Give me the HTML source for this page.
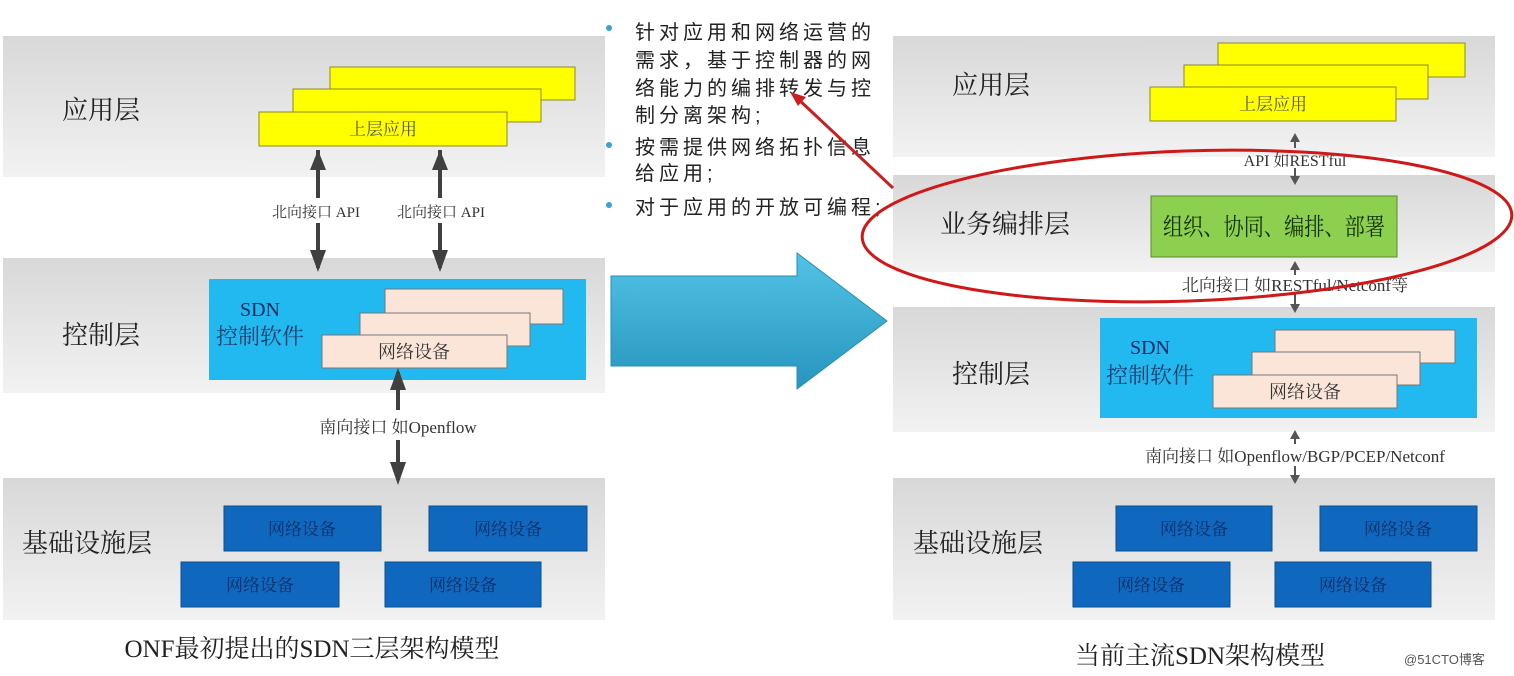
<!DOCTYPE html>
<html><head><meta charset="utf-8"><style>
html,body{margin:0;padding:0;background:#fff;}
svg{display:block}
.s{font-family:"Liberation Serif","Noto Serif CJK SC",serif;}
.h{font-family:"Liberation Sans","Noto Sans CJK SC",sans-serif;}
</style></head><body>
<svg width="1514" height="676" viewBox="0 0 1514 676" xmlns="http://www.w3.org/2000/svg">
<defs>
<linearGradient id="band" x1="0" y1="0" x2="0" y2="1"><stop offset="0" stop-color="#d8d8d8"/><stop offset="1" stop-color="#f2f2f2"/></linearGradient>
<linearGradient id="arr" x1="0" y1="0" x2="0" y2="1"><stop offset="0" stop-color="#52c3e6"/><stop offset="1" stop-color="#2795be"/></linearGradient>
</defs>
<g class="s">
<rect x="3" y="36" width="602" height="141" fill="url(#band)"/>
<rect x="3" y="258" width="602" height="135" fill="url(#band)"/>
<rect x="3" y="478" width="602" height="142" fill="url(#band)"/>
<text x="62" y="119" font-size="26" fill="#222">应用层</text>
<text x="62" y="344" font-size="26" fill="#222">控制层</text>
<text x="22" y="552" font-size="26" fill="#222">基础设施层</text>
<rect x="330" y="67" width="245" height="33" fill="#ffff00" stroke="#8a8a30"/>
<rect x="293" y="89" width="248" height="33" fill="#ffff00" stroke="#8a8a30"/>
<rect x="259" y="112" width="248" height="34" fill="#ffff00" stroke="#8a8a30"/>
<text x="383" y="135" font-size="17" text-anchor="middle" fill="#555">上层应用</text>
<line x1="318" y1="150" x2="318" y2="198" stroke="#404040" stroke-width="4"/>
<line x1="318" y1="223" x2="318" y2="268" stroke="#404040" stroke-width="4"/>
<path d="M310,170 L318,150 L326,170z M310,250 L318,272 L326,250z" fill="#404040"/>
<line x1="440" y1="150" x2="440" y2="198" stroke="#404040" stroke-width="4"/>
<line x1="440" y1="223" x2="440" y2="268" stroke="#404040" stroke-width="4"/>
<path d="M432,170 L440,150 L448,170z M432,250 L440,272 L448,250z" fill="#404040"/>
<text x="316" y="217" font-size="15" text-anchor="middle" fill="#333">北向接口 API</text>
<text x="441" y="217" font-size="15" text-anchor="middle" fill="#333">北向接口 API</text>
<rect x="209" y="279" width="377" height="101" fill="#22b9f0"/>
<text x="260" y="316" font-size="20" text-anchor="middle" fill="#0a2a66">SDN</text>
<text x="260" y="344" font-size="22" text-anchor="middle" fill="#1c3c6c">控制软件</text>
<rect x="385" y="289" width="178" height="35" fill="#fbe5d8" stroke="#777"/>
<rect x="360" y="313" width="170" height="33" fill="#fbe5d8" stroke="#777"/>
<rect x="322" y="335" width="185" height="33" fill="#fbe5d8" stroke="#777"/>
<text x="414" y="358" font-size="18" text-anchor="middle" fill="#333">网络设备</text>
<line x1="398" y1="372" x2="398" y2="410" stroke="#404040" stroke-width="4"/>
<line x1="398" y1="440" x2="398" y2="480" stroke="#404040" stroke-width="4"/>
<path d="M390,390 L398,368 L406,390z M390,462 L398,485 L406,462z" fill="#404040"/>
<text x="398" y="433" font-size="17" text-anchor="middle" fill="#333">南向接口 如Openflow</text>
<g fill="#0f68bd" stroke="#0b4f8f">
<rect x="224" y="506" width="157" height="45"/><rect x="429" y="506" width="158" height="45"/>
<rect x="181" y="562" width="158" height="45"/><rect x="385" y="562" width="156" height="45"/>
</g>
<g font-size="17" text-anchor="middle" fill="#0d2f6a">
<text x="302" y="535">网络设备</text><text x="508" y="535">网络设备</text>
<text x="260" y="591">网络设备</text><text x="463" y="591">网络设备</text>
</g>
<text x="312" y="657" font-size="25" text-anchor="middle" fill="#222">ONF最初提出的SDN三层架构模型</text>

<path d="M611,276 L797,276 L797,253 L887,321 L797,389 L797,366 L611,366z" fill="url(#arr)" stroke="#2a8db5"/>

<rect x="893" y="36" width="602" height="121" fill="url(#band)"/>
<rect x="893" y="175" width="602" height="97" fill="url(#band)"/>
<rect x="893" y="307" width="602" height="125" fill="url(#band)"/>
<rect x="893" y="478" width="602" height="142" fill="url(#band)"/>
<text x="952" y="94" font-size="26" fill="#222">应用层</text>
<text x="940" y="233" font-size="26" fill="#222">业务编排层</text>
<text x="952" y="383" font-size="26" fill="#222">控制层</text>
<text x="913" y="552" font-size="26" fill="#222">基础设施层</text>
<rect x="1218" y="43" width="247" height="34" fill="#ffff00" stroke="#8a8a30"/>
<rect x="1184" y="65" width="244" height="34" fill="#ffff00" stroke="#8a8a30"/>
<rect x="1150" y="87" width="246" height="34" fill="#ffff00" stroke="#8a8a30"/>
<text x="1273" y="110" font-size="17" text-anchor="middle" fill="#555">上层应用</text>
<g stroke="#555" stroke-width="2">
<line x1="1295" y1="136" x2="1295" y2="148"/><line x1="1295" y1="168" x2="1295" y2="182"/>
<line x1="1295" y1="264" x2="1295" y2="275"/><line x1="1295" y1="294" x2="1295" y2="310"/>
<line x1="1295" y1="432" x2="1295" y2="444"/><line x1="1295" y1="466" x2="1295" y2="481"/>
</g>
<g fill="#555">
<path d="M1290,142 L1295,133 L1300,142z M1290,176 L1295,185 L1300,176z"/>
<path d="M1290,270 L1295,261 L1300,270z M1290,304 L1295,313 L1300,304z"/>
<path d="M1290,439 L1295,430 L1300,439z M1290,475 L1295,484 L1300,475z"/>
</g>
<text x="1295" y="166" font-size="16" text-anchor="middle" fill="#333">API 如RESTful</text>
<rect x="1151" y="196" width="246" height="61" fill="#8dcf4e" stroke="#5a8a30"/>
<text x="1163" y="235" font-size="24" textLength="222" lengthAdjust="spacingAndGlyphs" fill="#12300a">组织、协同、编排、部署</text>
<text x="1295" y="291" font-size="17" text-anchor="middle" fill="#333">北向接口 如RESTful/Netconf等</text>
<rect x="1100" y="318" width="377" height="100" fill="#22b9f0"/>
<text x="1150" y="354" font-size="20" text-anchor="middle" fill="#0a2a66">SDN</text>
<text x="1150" y="383" font-size="22" text-anchor="middle" fill="#1c3c6c">控制软件</text>
<rect x="1275" y="330" width="180" height="33" fill="#fbe5d8" stroke="#777"/>
<rect x="1252" y="352" width="168" height="33" fill="#fbe5d8" stroke="#777"/>
<rect x="1213" y="375" width="184" height="33" fill="#fbe5d8" stroke="#777"/>
<text x="1305" y="398" font-size="18" text-anchor="middle" fill="#333">网络设备</text>
<text x="1295" y="462" font-size="17" text-anchor="middle" fill="#333">南向接口 如Openflow/BGP/PCEP/Netconf</text>
<g fill="#0f68bd" stroke="#0b4f8f">
<rect x="1116" y="506" width="156" height="45"/><rect x="1320" y="506" width="157" height="45"/>
<rect x="1073" y="562" width="157" height="45"/><rect x="1275" y="562" width="156" height="45"/>
</g>
<g font-size="17" text-anchor="middle" fill="#0d2f6a">
<text x="1194" y="535">网络设备</text><text x="1398" y="535">网络设备</text>
<text x="1151" y="591">网络设备</text><text x="1353" y="591">网络设备</text>
</g>
<text x="1200" y="664" font-size="25" text-anchor="middle" fill="#222">当前主流SDN架构模型</text>
</g>
<text class="h" x="1404" y="664" font-size="13" fill="#555">@51CTO博客</text>

<g class="h" font-size="20" fill="#222" letter-spacing="4">
<text x="635" y="39">针对应用和网络运营的</text>
<text x="635" y="67">需求，基于控制器的网</text>
<text x="635" y="95">络能力的编排转发与控</text>
<text x="635" y="122">制分离架构;</text>
<text x="635" y="154">按需提供网络拓扑信息</text>
<text x="635" y="180">给应用;</text>
<text x="635" y="214">对于应用的开放可编程;</text>
</g>
<g fill="#3aa0d8"><circle cx="609" cy="28" r="3"/><circle cx="609" cy="145" r="3"/><circle cx="609" cy="205" r="3"/></g>

<ellipse cx="1187" cy="226" rx="325" ry="75" fill="none" stroke="#d01818" stroke-width="3" transform="rotate(-2 1187 226)"/>
<line x1="893" y1="188" x2="797" y2="98" stroke="#c82020" stroke-width="3"/>
<path d="M790,92 L806,97 L798,106z" fill="#c82020"/>
</svg>
</body></html>
